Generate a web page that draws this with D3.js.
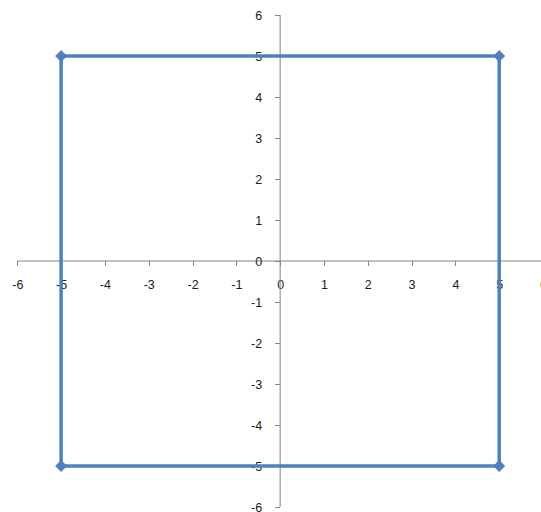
<!DOCTYPE html>
<html>
<head>
<meta charset="utf-8">
<script src="https://cdn.jsdelivr.net/npm/d3@7"></script>
<style>
html,body{margin:0;padding:0;background:#fff;}
svg{display:block;}
</style>
</head>
<body>
<svg id="chart" width="541" height="512"></svg>
<script>
const xTicks = [-6,-5,-4,-3,-2,-1,0,1,2,3,4,5,6];
const yTicks = [-6,-5,-4,-3,-2,-1,0,1,2,3,4,5,6];
const xValues = [-5, 5, 5, -5, -5];
const yValues = [5, 5, -5, -5, 5];

const svg = d3.select("#chart");
const x = d3.scaleLinear().domain([-6,6]).range([17.3,543]);
const y = d3.scaleLinear().domain([-6,6]).range([507,15]);
const axisColor = "#868686";
const font = "Liberation Sans, Arial, sans-serif";
const fmt = d => String(d);

// X axis
const gx = svg.append("g").attr("transform", `translate(0,${y(0)})`);
gx.append("line").attr("x1", x(-6)).attr("x2", 541).attr("y1",0).attr("y2",0)
  .attr("stroke", axisColor).attr("stroke-width",1);
const xAxis = d3.axisBottom(x).tickValues(xTicks).tickSize(5).tickPadding(13).tickFormat(fmt);
gx.call(xAxis);
gx.select(".domain").remove();
gx.selectAll(".tick line").attr("stroke", axisColor);
gx.selectAll(".tick text").attr("fill","#1a1a1a").attr("font-family",font).attr("font-size","12.5px").attr("dy","0.32em")
  .attr("y", 24);

// Y axis
const gy = svg.append("g").attr("transform", `translate(${x(0)},0)`);
gy.append("line").attr("x1",0).attr("x2",0).attr("y1", y(6)).attr("y2", y(-6))
  .attr("stroke", axisColor).attr("stroke-width",1);
const yAxis = d3.axisLeft(y).tickValues(yTicks).tickSize(5).tickPadding(13).tickFormat(fmt);
gy.call(yAxis);
gy.select(".domain").remove();
gy.selectAll(".tick line").attr("stroke", axisColor);
gy.selectAll(".tick text").attr("fill","#1a1a1a").attr("font-family",font).attr("font-size","12.5px").attr("x",-18);

svg.selectAll(".tick line").attr("shape-rendering","crispEdges");

// Series
const pts = xValues.map((v,i)=>[v, yValues[i]]);
const line = d3.line().x(d=>x(d[0])).y(d=>y(d[1]));
svg.append("path").datum(pts).attr("d", line).attr("fill","none")
  .attr("stroke","#4F81BD").attr("stroke-width",3.5).attr("stroke-linejoin","miter");
svg.selectAll(".marker").data(pts.slice(0,4)).enter().append("path")
  .attr("class","marker")
  .attr("d", d3.symbol().type(d3.symbolSquare).size(55))
  .attr("transform", d=>`translate(${x(d[0])},${y(d[1])}) rotate(45)`)
  .attr("fill","#4F81BD").attr("stroke","#4F81BD").attr("stroke-width",1);
</script>
</body>
</html>
